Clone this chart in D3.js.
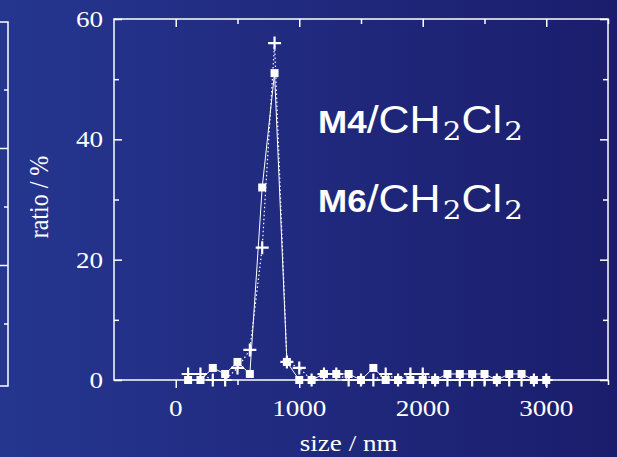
<!DOCTYPE html>
<html>
<head>
<meta charset="utf-8">
<script src="https://cdn.jsdelivr.net/npm/d3@7"></script>
<style>
  html, body { margin: 0; padding: 0; background: #1f2a80; }
  svg { display: block; }
  .tick-label { font-family: "Liberation Serif", "DejaVu Serif", serif; font-size: 24px; fill: #fff; }
</style>
</head>
<body>
<div id="chart"></div>
<script>
// size distribution, ratio in % for every 100 nm bin
var sizes = [100, 200, 300, 400, 500, 600, 700, 800, 900, 1000,
             1100, 1200, 1300, 1400, 1500, 1600, 1700, 1800, 1900, 2000,
             2100, 2200, 2300, 2400, 2500, 2600, 2700, 2800, 2900, 3000];
var m4Ratio = [0, 0, 2, 1, 3, 1, 32, 51, 3, 0,
               0, 1, 1, 1, 0, 2, 0, 0, 0, 0,
               0, 1, 1, 1, 1, 0, 1, 1, 0, 0];
var m6Ratio = [1, 1, 0, 0, 2, 5, 22, 56, 3, 2,
               0, 1, 1, 0, 0, 0, 1, 0, 1, 1,
               0, 0, 0, 0, 0, 0, 0, 0, 0, 0];
var xTicks = [0, 1000, 2000, 3000];
var yTicks = [0, 20, 40, 60];

var width = 617,
    height = 457,
    m = {top: 19, right: 9, bottom: 77, left: 114},
    w = width - m.left - m.right,
    h = height - m.top - m.bottom,
    stretch = 1.13; // text in the picture is a bit wider than normal

var svg = d3.select('#chart').append('svg')
    .attr('width', width)
    .attr('height', height);

// background fades from blue to navy
var grad = svg.append('defs').append('linearGradient')
    .attr('id', 'bg')
    .attr('x1', 0).attr('x2', 1).attr('y1', 0).attr('y2', 0);
grad.append('stop').attr('offset', 0).attr('stop-color', '#25368f');
grad.append('stop').attr('offset', 1).attr('stop-color', '#1b1d6c');
svg.append('rect').attr('width', width).attr('height', height).attr('fill', 'url(#bg)');

var x = d3.scaleLinear().domain([-500, 3500]).range([0, w]),
    y = d3.scaleLinear().domain([0, 60]).range([h, 0]);

// edge of the neighbouring panel, cut off at the left border
var ghost = d3.scaleLinear().domain([0, 1]).range([382.5, 324]);
var gp = svg.append('g').attr('stroke', '#fff').attr('stroke-width', 1.5).attr('fill', 'none');
gp.append('path').attr('d', 'M0,22H8V386H0');
gp.selectAll('line').data([1, 2, 3, 4, 5]).enter().append('line')
    .attr('x1', 8)
    .attr('x2', function(d) { return d % 2 ? 4 : 0; })
    .attr('y1', function(d) { return ghost(d); })
    .attr('y2', function(d) { return ghost(d); });

var g = svg.append('g').attr('transform', 'translate(' + m.left + ',' + m.top + ')');

// frame
g.append('rect')
    .attr('width', w).attr('height', h)
    .attr('fill', 'none').attr('stroke', '#fff').attr('stroke-width', 1.5);

function tickStyle(sel) {
  sel.select('.domain').remove();
  sel.selectAll('.tick line').attr('stroke', '#fff').attr('stroke-width', 1.5);
  sel.selectAll('.tick text').remove();
}

var xMinor = d3.range(0, 3501, 500);
var yMinor = d3.range(0, 61, 10);

// bottom ticks point outwards, others inwards
g.append('g').attr('transform', 'translate(0,' + h + ')')
  .call(d3.axisBottom(x).tickValues(xMinor).tickSize(8))
  .call(tickStyle)
  .selectAll('.tick line').attr('y2', function(d) { return d % 1000 ? 5 : 8; });

g.append('g')
  .call(d3.axisBottom(x).tickValues(xMinor).tickSize(8))
  .call(tickStyle)
  .selectAll('.tick line').attr('y2', function(d) { return d % 1000 ? 5 : 8; });

g.append('g')
  .call(d3.axisRight(y).tickValues(yMinor).tickSize(8))
  .call(tickStyle)
  .selectAll('.tick line').attr('x2', function(d) { return d % 20 ? 5 : 8; });

g.append('g').attr('transform', 'translate(' + w + ',0)')
  .call(d3.axisLeft(y).tickValues(yMinor).tickSize(8))
  .call(tickStyle)
  .selectAll('.tick line').attr('x2', function(d) { return d % 20 ? -5 : -8; });

// tick labels
g.selectAll('.xlab').data(xTicks).enter().append('text')
    .attr('class', 'tick-label')
    .attr('transform', function(d) { return 'translate(' + x(d) + ',' + (h + 36) + ') scale(' + stretch + ',1)'; })
    .attr('text-anchor', 'middle')
    .text(function(d) { return d; });

g.selectAll('.ylab').data(yTicks).enter().append('text')
    .attr('class', 'tick-label')
    .attr('transform', function(d) { return 'translate(-11,' + y(d) + ') scale(' + stretch + ',1)'; })
    .attr('dy', '0.33em')
    .attr('text-anchor', 'end')
    .text(function(d) { return d; });

// axis titles
svg.append('text')
    .attr('class', 'tick-label')
    .attr('transform', 'translate(' + (m.left + x(1400)) + ',451) scale(' + stretch + ',1)')
    .attr('text-anchor', 'middle')
    .text('size / nm');

svg.append('text')
    .attr('class', 'tick-label')
    .attr('transform', 'translate(48,197) rotate(-90) scale(1,' + stretch + ')')
    .attr('text-anchor', 'middle')
    .text('ratio / %');

var m4 = sizes.map(function(s, i) { return [s, m4Ratio[i]]; }),
    m6 = sizes.map(function(s, i) { return [s, m6Ratio[i]]; });

var line = d3.line()
    .x(function(d) { return x(d[0]); })
    .y(function(d) { return y(d[1]); });

g.append('path').datum(m6)
    .attr('d', line)
    .attr('fill', 'none').attr('stroke', '#fff')
    .attr('stroke-width', 1.2).attr('stroke-dasharray', '1.5,2.5');

g.append('path').datum(m4)
    .attr('d', line)
    .attr('fill', 'none').attr('stroke', '#fff').attr('stroke-width', 1);

// markers: squares for M4, crosses for M6
g.selectAll('.sq').data(m4).enter().append('rect')
    .attr('x', function(d) { return x(d[0]) - 4; })
    .attr('y', function(d) { return y(d[1]) - 4; })
    .attr('width', 8).attr('height', 8)
    .attr('fill', '#fff');

g.selectAll('.pl').data(m6).enter().append('path')
    .attr('transform', function(d) { return 'translate(' + x(d[0]) + ',' + y(d[1]) + ')'; })
    .attr('d', 'M-6.5,0H6.5M0,-6.5V6.5')
    .attr('stroke', '#fff').attr('stroke-width', 2.2);

// sample labels
var labels = [['M4', 133], ['M6', 212]];
labels.forEach(function(l) {
  var t = svg.append('text')
      .attr('transform', 'translate(318,' + l[1] + ') scale(' + stretch + ',1)')
      .attr('fill', '#fff')
      .style('font-family', '"Liberation Sans", Arial, sans-serif');
  t.append('tspan').attr('font-weight', 'bold').attr('font-size', 31).text(l[0]);
  t.append('tspan').attr('font-size', 38).text('/CH');
  t.append('tspan').attr('font-size', 26).attr('dy', 7).attr('dx', 2)
      .style('font-family', '"DejaVu Serif", serif').text('2');
  t.append('tspan').attr('font-size', 38).attr('dy', -7).text('Cl');
  t.append('tspan').attr('font-size', 26).attr('dy', 7).attr('dx', 2)
      .style('font-family', '"DejaVu Serif", serif').text('2');
});
</script>
</body>
</html>
